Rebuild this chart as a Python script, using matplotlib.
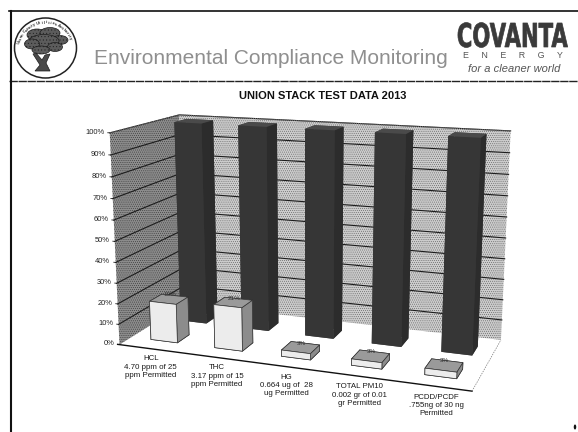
import numpy as np
import matplotlib
matplotlib.use('Agg')
import matplotlib.pyplot as plt
from matplotlib.patches import Circle, Ellipse, Polygon
from matplotlib.patheffects import AbstractPathEffect
from matplotlib.transforms import Affine2D
from mpl_toolkits.mplot3d import proj3d
from mpl_toolkits.mplot3d.art3d import Poly3DCollection

plt.rcParams['font.family'] = ['Liberation Sans', 'DejaVu Sans']
plt.rcParams['hatch.linewidth'] = 0.3

# ---- data ----
categories = ['HCL\n4.70 ppm of 25\nppm Permitted',
              'THC\n3.17 ppm of 15\nppm Permitted',
              'HG\n0.664 ug of  28\nug Permitted',
              'TOTAL PM10\n0.002 gr of 0.01\ngr Permitted',
              'PCDD/PCDF\n.755ng of 30 ng\nPermitted']
measured_pct = [19, 21, 3, 3, 3]
permitted_pct = [100, 100, 100, 100, 100]
y_ticks = [0, 10, 20, 30, 40, 50, 60, 70, 80, 90, 100]

title = 'UNION STACK TEST DATA 2013'
header = 'Environmental Compliance Monitoring'

# ---- figure ----
PW, PH = 578, 432
fig = plt.figure(figsize=(PW / 100, PH / 100), dpi=100)

# pixel-space overlay for the letterhead and chart labels
ov = fig.add_axes([0, 0, 1, 1], zorder=5)
ov.set_xlim(0, PW); ov.set_ylim(PH, 0); ov.axis('off'); ov.patch.set_alpha(0)

# ---- 3D chart, camera fitted to the reference ----
S, TX, TY = 2346.56, 311.54, 239.68
x0, x1, y0, y1 = -0.095, 0.09, -0.095, 0.09
side = (x1 - x0) * S
left = TX + x0 * S
bottom = PH - TY + y0 * S
ax = fig.add_axes([left / PW, bottom / PH, side / PW, side / PH], projection='3d', zorder=1)
ax.set_proj_type('persp', focal_length=0.447)
ax.view_init(13.963, -70.034, -0.029)
ax.set_box_aspect((1, 0.407, 0.598))
ax.set_xlim(0, 5); ax.set_ylim(0, 1); ax.set_zlim(0, 100)
ax.set_axis_off()
ax.patch.set_alpha(0)
ax.computed_zorder = False
n = len(categories)
top = y_ticks[-1]
M = ax.get_proj()

def label3d(x, y, z, s, **kw):
    X, Y, _ = proj3d.proj_transform(x, y, z, M)
    ov.text(S * float(X) + TX, TY - S * float(Y), s, **kw)

def face(verts, fc, z, hatch=None, hc='#000000'):
    p = Poly3DCollection([verts], facecolors=fc, edgecolors=hc, linewidths=0, zorder=z, hatch=hatch)
    ax.add_collection3d(p)

face([(0, 0, 0), (n, 0, 0), (n, 1, 0), (0, 1, 0)], '#ffffff', 1)
face([(0, 0, 0), (0, 1, 0), (0, 1, top), (0, 0, top)], '#8c8c8c', 1, '........', '#2a2a2a')
face([(0, 1, 0), (n, 1, 0), (n, 1, top), (0, 1, top)], '#cccccc', 1, '........', '#505050')

for t in y_ticks[1:]:
    ax.plot([0, 0, n], [0, 1, 1], [t, t, t], color='#1c1c1c', lw=0.8, zorder=2)
    ax.plot([-0.03, 0], [0, 0], [t, t], color='#1c1c1c', lw=0.6, zorder=2)
for t in y_ticks:
    label3d(-0.085, 0, t, f'{t}%', ha='right', va='center', fontsize=5.4, color='#222222')
ax.plot([-0.03, n], [0, 0], [0, 0], color='#111111', lw=1.0, zorder=2)
ax.plot([n, n], [0, 1], [0, 0], color='#777777', lw=0.5, ls=(0, (2, 1.5)), zorder=2)
ax.plot([0, n], [1, 1], [top, top], color='#777777', lw=0.7, ls=(0, (1, 1)), zorder=2)
ax.plot([0, 0], [0, 1], [top, top], color='#777777', lw=0.7, ls=(0, (1, 1)), zorder=2)

def bar(i, cx, bw, y, d, h, front, topc, sidec, z, ec='none', lw=0):
    b = ax.bar3d(i + cx - bw / 2, y, 0, bw, d, h, shade=False,
                 color=[topc, topc, front, front, sidec, sidec], edgecolor=ec, linewidth=lw)
    b.set_zorder(z)

for i, v in enumerate(permitted_pct):
    bar(i, 0.53, 0.43, 0.62, 0.19, v, '#363636', '#4a4a4a', '#2c2c2c', 3 + i * 0.01)
for i, v in enumerate(measured_pct):
    bar(i, 0.52, 0.42, 0.17, 0.18, v, '#ececec', '#9a9a9a', '#8c8c8c', 4 + i * 0.01,
        ec='#333333', lw=0.5)
    label3d(i + 0.52, 0.28, v + 0.5, f'{v}%', ha='center', va='bottom', fontsize=4.6,
            color='#333333')

for i, c in enumerate(categories):
    label3d(i + 0.58, -0.08, -1, c, ha='center', va='top', fontsize=5.7, color='#1a1a1a',
            linespacing=1.28)

# ---- letterhead ----
ov.plot([9, PW], [11, 11], color='#111111', lw=1.2)
ov.plot([9, PW], [81, 81], color='#222222', lw=1.0, ls=(0, (6, 0.5)))
ov.plot([10.5, 10.5], [11, PH], color='#111111', lw=1.5)
ov.add_patch(Ellipse((575, 427), 2.5, 5, fc='#111111', ec='none'))

ov.add_patch(Ellipse((45.5, 48), 62, 60, fc='white', ec='#222222', lw=1.1))
crown = [(37, 35, 20, 12), (50, 33, 20, 11), (60, 40, 16, 9), (44, 41, 30, 13),
         (32, 44, 15, 10), (55, 47, 15, 9), (41, 50, 18, 8)]
for (cx, cy, w, h) in crown:
    ov.add_patch(Ellipse((cx, cy), w, h, fc='#5c5c5c', ec='#1c1c1c', lw=0.5, hatch='.....'))
ov.add_patch(Polygon([(35, 71), (50, 71), (46, 63), (50, 54), (45, 55), (42, 60), (36, 53), (33, 54), (40, 65)],
                     fc='#4a4a4a', ec='#1c1c1c', lw=0.5))
ring = 'Union County Utilities Authority'
for k, ch in enumerate(ring):
    a = np.radians(168 - k * 4.7)
    ov.text(45.5 + 26.5 * np.cos(a), 48 - 25.5 * np.sin(a), ch, fontsize=3.2, fontweight='bold',
            ha='center', va='center', rotation=np.degrees(a) - 90, color='#333333')

ov.text(271, 59, header, fontsize=15, color='#8f8f8f', ha='center', va='center')
ov.text(323, 96, title, fontsize=8, fontweight='bold', color='#111111', ha='center', va='center')

class VStretch(AbstractPathEffect):
    def __init__(self, k, lw):
        super().__init__()
        self.k = k
        self.lw = lw
    def draw_path(self, renderer, gc, tpath, affine, rgbFace=None):
        ox, oy = affine.transform_point((0, 0))
        t = Affine2D().translate(-ox, -oy).scale(1, self.k).translate(ox, oy)
        gc0 = renderer.new_gc()
        gc0.copy_properties(gc)
        gc0.set_linewidth(self.lw)
        gc0.set_foreground(rgbFace)
        renderer.draw_path(gc0, tpath, affine + t, rgbFace)
        gc0.restore()

cov = ov.text(512.5, 47, 'COVANTA', fontsize=15.2, fontweight='bold', color='#3a3a3a',
              ha='center', va='baseline', family=['DejaVu Sans'])
cov.set_path_effects([VStretch(1.56, 0.5)])
ov.text(512.5, 56, 'E     N     E     R     G     Y', fontsize=6.4, color='#555555',
        ha='center', va='center')
ov.text(514.5, 69, 'for a cleaner world', fontsize=8, style='italic', color='#555555',
        ha='center', va='center')

fig.savefig('out.png', dpi=100)
